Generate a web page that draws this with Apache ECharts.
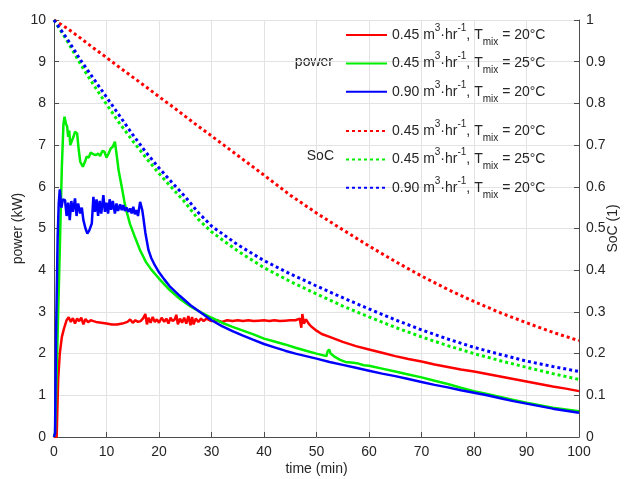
<!DOCTYPE html>
<html>
<head>
<meta charset="utf-8">
<script src="https://cdn.jsdelivr.net/npm/echarts@6/dist/echarts.min.js"></script>
<style>html,body{margin:0;padding:0;background:#fff}#c{width:624px;height:479px}</style>
</head>
<body>
<div id="c"></div>
<script>
// ---- data ----
const xTicks = [0,10,20,30,40,50,60,70,80,90,100];
const legendLabels = [
  ['0.45', '20'],
  ['0.45', '25'],
  ['0.90', '20']
];
// power (kW) vs time (min)
const powerRed = [[0,0],[0.5,0],[0.8,1.4],[1.1,2.0],[1.5,2.4],[1.9,2.6],[2.4,2.8],[2.8,2.87],[3.2,2.76],[3.6,2.85],[4.0,2.72],[4.4,2.84],[4.8,2.78],[5.2,2.86],[5.6,2.7],[6.0,2.83],[6.5,2.75],[7,2.8],[7.5,2.78],[8,2.76],[9,2.74],[10,2.72],[11,2.7],[12,2.7],[13,2.72],[14,2.76],[14.5,2.82],[15,2.74],[15.5,2.8],[16,2.76],[16.5,2.78],[17,2.85],[17.4,2.95],[17.7,2.7],[18,2.86],[18.4,2.74],[18.8,2.88],[19.2,2.76],[19.6,2.82],[20,2.74],[20.5,2.86],[21,2.76],[21.4,2.84],[21.8,2.72],[22.2,2.86],[22.6,2.78],[23,2.82],[23.3,2.93],[23.6,2.7],[24,2.84],[24.4,2.74],[24.8,2.86],[25.2,2.72],[25.6,2.9],[26,2.68],[26.3,2.88],[26.6,2.7],[27,2.84],[27.5,2.76],[28,2.84],[28.5,2.78],[29,2.84],[30,2.78],[31,2.8],[32,2.76],[33,2.8],[34,2.78],[35,2.8],[36,2.78],[37,2.8],[38,2.78],[39,2.79],[40,2.8],[41,2.78],[42,2.8],[43,2.78],[44,2.79],[45,2.8],[46,2.8],[46.8,2.84],[47.1,2.62],[47.3,2.95],[47.6,2.72],[48,2.82],[48.5,2.72],[49,2.65],[50,2.55],[51,2.47],[52.5,2.4],[55,2.28],[57.5,2.18],[60,2.1],[62.5,2.02],[65,1.94],[67.5,1.87],[70,1.81],[72.5,1.74],[75,1.68],[77.5,1.62],[80,1.57],[82.5,1.51],[85,1.45],[87.5,1.39],[90,1.33],[92.5,1.27],[95,1.21],[97.5,1.16],[100,1.1]];
const powerGreen = [[0,0],[0.2,0.1],[0.4,0.1],[0.7,2.5],[1.1,4.5],[1.5,6.5],[1.8,7.5],[2.0,7.68],[2.3,7.5],[2.5,7.45],[2.7,7.2],[2.9,7.35],[3.1,7.0],[3.4,6.96],[3.7,7.2],[4.0,7.32],[4.4,7.28],[4.7,6.9],[5.0,6.6],[5.5,6.48],[5.9,6.6],[6.2,6.72],[6.6,6.7],[7.0,6.82],[7.5,6.78],[8.0,6.76],[8.4,6.8],[8.8,6.74],[9.2,6.86],[9.6,6.84],[10.0,6.7],[10.4,6.8],[10.8,6.92],[11.2,6.96],[11.6,7.08],[11.9,6.8],[12.3,6.4],[12.9,6.0],[13.4,5.65],[13.8,5.42],[14.5,5.1],[15.4,4.8],[16.4,4.48],[17.5,4.2],[18.5,4.02],[20,3.8],[22,3.53],[24,3.31],[26,3.13],[28,2.99],[30,2.86],[32,2.74],[34,2.64],[36,2.55],[38,2.46],[40,2.36],[42,2.29],[44,2.22],[46,2.14],[48,2.07],[50,2.0],[51.9,1.94],[52.1,2.05],[52.4,2.1],[52.7,2.0],[53.5,1.92],[54.5,1.85],[55.5,1.8],[57,1.78],[58,1.76],[59,1.72],[60,1.71],[62.5,1.64],[65,1.57],[67.5,1.5],[70,1.43],[72.5,1.35],[75,1.27],[77.5,1.18],[80,1.1],[82.5,1.03],[85,0.96],[87.5,0.89],[90,0.82],[92.5,0.76],[95,0.7],[97.5,0.66],[100,0.62]];
const powerBlue = [[0,0],[0.2,0.1],[0.4,2.5],[0.7,4.8],[0.9,5.6],[1.1,5.94],[1.4,5.5],[1.7,5.7],[2.1,5.68],[2.4,5.3],[2.7,5.62],[3.0,5.2],[3.3,5.66],[3.6,5.4],[4.0,5.72],[4.3,5.3],[4.6,5.6],[5.0,5.36],[5.3,5.5],[5.6,5.2],[6.0,5.0],[6.35,4.88],[6.7,4.95],[7.2,5.12],[7.5,5.76],[7.8,5.4],[8.1,5.7],[8.4,5.3],[8.7,5.66],[9.0,5.36],[9.4,5.8],[9.7,5.4],[10.0,5.62],[10.3,5.36],[10.6,5.7],[10.9,5.45],[11.2,5.66],[11.6,5.36],[11.9,5.6],[12.2,5.42],[12.6,5.58],[12.9,5.44],[13.2,5.56],[13.5,5.42],[13.8,5.5],[14.2,5.4],[14.5,5.48],[14.8,5.36],[15.1,5.52],[15.4,5.34],[15.7,5.44],[16.0,5.3],[16.4,5.64],[16.8,5.45],[17.0,5.28],[17.4,4.9],[18.0,4.48],[18.5,4.3],[19.2,4.12],[20,3.95],[21,3.78],[22,3.62],[23,3.5],[24,3.38],[26,3.16],[28,2.98],[30,2.8],[32,2.66],[34,2.54],[36,2.43],[38,2.33],[40,2.23],[42,2.15],[44,2.07],[46,2.0],[48,1.94],[50,1.88],[52.5,1.8],[55,1.73],[57.5,1.66],[60,1.59],[62.5,1.52],[65,1.46],[67.5,1.39],[70,1.32],[72.5,1.25],[75,1.19],[77.5,1.12],[80,1.06],[82.5,1.0],[85,0.93],[87.5,0.86],[90,0.8],[92.5,0.74],[95,0.68],[97.5,0.63],[100,0.58]];
// state of charge (1) vs time (min)
const socTime  = [0,2.5,5,7.5,10,12.5,15,17.5,20,22.5,25,27.5,30,35,40,45,50,55,60,65,70,75,80,85,90,95,100];
const socRed   = [1.0,0.98,0.957,0.933,0.91,0.886,0.863,0.84,0.816,0.793,0.769,0.745,0.722,0.675,0.628,0.58,0.537,0.497,0.458,0.421,0.386,0.354,0.325,0.298,0.274,0.251,0.231];
const socGreen = [1.0,0.95,0.895,0.845,0.798,0.752,0.71,0.67,0.632,0.597,0.562,0.522,0.492,0.446,0.406,0.373,0.343,0.314,0.288,0.263,0.24,0.219,0.2,0.183,0.167,0.152,0.138];
const socBlue  = [1.0,0.955,0.905,0.86,0.815,0.77,0.725,0.683,0.645,0.61,0.576,0.538,0.506,0.461,0.423,0.391,0.362,0.334,0.307,0.281,0.257,0.235,0.215,0.198,0.182,0.169,0.157];

// ---- chart ----
const FONT = 'Liberation Sans, Arial, Helvetica, sans-serif';
const TXT = '#262626';
const AXC = '#4d4d4d';
const colors = ['#ff0000', '#00ee00', '#0000ff'];
const zip = (t, v) => t.map((x, i) => [x, v[i]]);
const powerData = [powerRed, powerGreen, powerBlue];
const socData = [socRed, socGreen, socBlue];

const series = [];
const pNames = [], sNames = [];
for (let i = 0; i < 3; i++) {
  const n = 'p' + i; pNames.push(n);
  series.push({name: n, type: 'line', yAxisIndex: 0, data: powerData[i], showSymbol: false, symbol: 'none',
    lineStyle: {color: colors[i], width: 2.5}, itemStyle: {color: colors[i]}, animation: false, z: 3});
}
for (let i = 0; i < 3; i++) {
  const n = 's' + i; sNames.push(n);
  series.push({name: n, type: 'line', yAxisIndex: 1, data: zip(socTime, socData[i]), showSymbol: false, symbol: 'none',
    lineStyle: {color: colors[i], width: 3, type: [3, 3], cap: 'butt'}, itemStyle: {color: colors[i]}, animation: false, z: 2});
}
function labelFor(name) {
  const l = legendLabels[+name.slice(1)];
  return '{n|' + l[0] + ' m}{sup|3}{n|\u00b7hr}{sup|-1}{n|, T}{sub|mix}{n| = ' + l[1] + '\u00b0C}';
}
const rich = {
  n: {fontSize: 14, fontFamily: FONT, color: TXT, lineHeight: 24},
  sup: {fontSize: 10, fontFamily: FONT, color: TXT, lineHeight: 11, verticalAlign: 'top'},
  sub: {fontSize: 10, fontFamily: FONT, color: TXT, lineHeight: 10, verticalAlign: 'bottom'}
};
function legend(data, top) {
  return {data: data, orient: 'vertical', left: 340, top: top, itemWidth: 41, itemHeight: 12, itemGap: 4.4,
    selectedMode: false, formatter: labelFor, itemStyle: {opacity: 0},
    textStyle: {rich: rich, fontSize: 14, fontFamily: FONT, color: TXT}};
}

const chart = echarts.init(document.getElementById('c'), null, {renderer: 'canvas'});
chart.setOption({
  backgroundColor: '#fff',
  animation: false,
  grid: {left: 54, right: 45, top: 20, bottom: 42, containLabel: false, outerBoundsMode: 'none'},
  textStyle: {fontFamily: FONT},
  legend: [legend(pNames, 18), legend(sNames, 114)],
  graphic: [
    {type: 'text', right: 624 - 333, top: 55, style: {text: 'power', fontSize: 14, fontFamily: FONT, fill: TXT}},
    {type: 'text', right: 624 - 334, top: 149, style: {text: 'SoC', fontSize: 14, fontFamily: FONT, fill: TXT}}
  ],
  xAxis: {type: 'value', min: 0, max: 100, interval: 10,
    name: 'time (min)', nameLocation: 'middle', nameGap: 25, nameMoveOverlap: false,
    nameTextStyle: {fontSize: 14, color: TXT, fontFamily: FONT},
    axisLine: {show: true, lineStyle: {color: AXC, width: 1}},
    axisTick: {show: true, inside: true, length: 5, lineStyle: {color: AXC}},
    axisLabel: {fontSize: 14, color: TXT, margin: 8, fontFamily: FONT},
    splitLine: {show: true, lineStyle: {color: '#e3e3e3', width: 1}}},
  yAxis: [
    {type: 'value', min: 0, max: 10, interval: 1, position: 'left',
      name: 'power (kW)', nameLocation: 'middle', nameGap: 29, nameRotate: 90, nameMoveOverlap: false,
      nameTextStyle: {fontSize: 14, color: TXT, fontFamily: FONT},
      axisLine: {show: true, onZero: false, lineStyle: {color: AXC, width: 1}},
      axisTick: {show: true, inside: true, length: 5, lineStyle: {color: AXC}},
      axisLabel: {fontSize: 14, color: TXT, margin: 8, fontFamily: FONT},
      splitLine: {show: true, lineStyle: {color: '#e3e3e3', width: 1}}},
    {type: 'value', min: 0, max: 1, interval: 0.1, position: 'right',
      name: 'SoC (1)', nameLocation: 'middle', nameGap: 27, nameRotate: 90, nameMoveOverlap: false,
      nameTextStyle: {fontSize: 14, color: TXT, fontFamily: FONT},
      axisLine: {show: true, onZero: false, lineStyle: {color: AXC, width: 1}},
      axisTick: {show: true, inside: true, length: 5, lineStyle: {color: AXC}},
      axisLabel: {fontSize: 14, color: TXT, margin: 7, fontFamily: FONT,
        formatter: v => (Math.round(v * 10) / 10).toString()},
      splitLine: {show: false}}
  ],
  series: series
});
</script>
</body>
</html>
